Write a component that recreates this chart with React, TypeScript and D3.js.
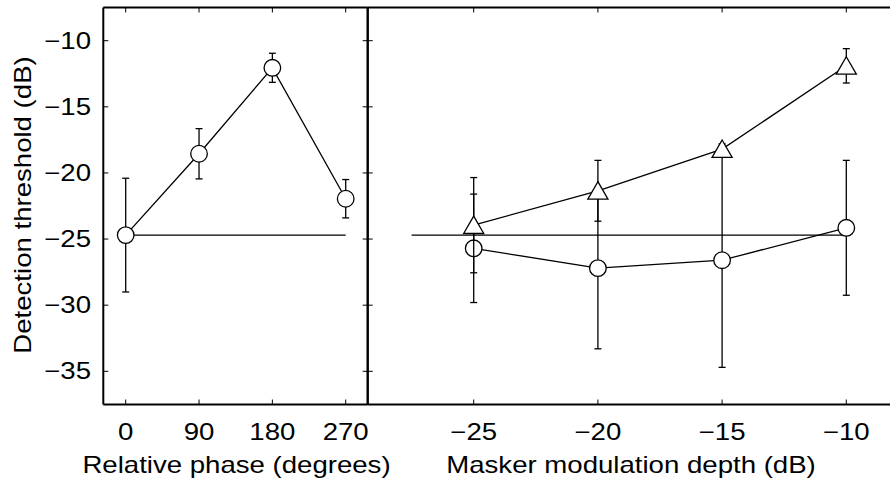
import React from "react";
import * as d3 from "d3";

const phases = [0, 90, 180, 270];
const phaseThreshold = [-24.7, -18.55, -12.05, -21.95];
const phaseError = [4.3, 1.9, 1.1, 1.45];

const depths = [-25, -20, -15, -10];
const triThreshold = [-23.95, -21.35, -18.2, -11.9];
const triError = [3.6, 2.3, 0.4, 1.3];
const circThreshold = [-25.7, -27.2, -26.6, -24.15];
const circError = [4.1, 6.1, 8.1, 5.1];

const refLevel = -24.7;
const yTicks = [-10, -15, -20, -25, -30, -35];
const phaseTicks = [0, 90, 180, 270];
const depthTicks = [-25, -20, -15, -10];

const W = 890;
const H = 482;
const FONT = "'Liberation Sans', Arial, Helvetica, sans-serif";
const FS = 23;
const SX = 1.2;

const top = 7.5;
const bottom = 404.5;
const leftL = 103.3;
const leftR = 367.7;
const rightR = 960;

const y = d3.scaleLinear().domain([-10, -35]).range([40.7, 371.3]);
const xL = d3.scaleLinear().domain([0, 270]).range([125.7, 345.7]);
const xR = d3.scaleLinear().domain([-25, -10]).range([473.7, 846.3]);

const tri = d3.symbol().type(d3.symbolTriangle).size(175);

function ErrBars({ xs, ys, es, sx }: any) {
  return (
    <g stroke="#000" strokeWidth={1.3}>
      {xs.map((xv: number, i: number) => {
        const cx = sx(xv);
        const y1 = y(ys[i] + es[i]);
        const y2 = y(ys[i] - es[i]);
        return (
          <g key={i}>
            <line x1={cx} x2={cx} y1={y1} y2={y2} />
            <line x1={cx - 3.5} x2={cx + 3.5} y1={y1} y2={y1} />
            <line x1={cx - 3.5} x2={cx + 3.5} y1={y2} y2={y2} />
          </g>
        );
      })}
    </g>
  );
}

function Series({ xs, ys, es, sx, marker }: any) {
  const line = d3
    .line<number>()
    .x((_, i) => sx(xs[i]))
    .y((v) => y(v));
  return (
    <g>
      <ErrBars xs={xs} ys={ys} es={es} sx={sx} />
      <path d={line(ys) || ""} fill="none" stroke="#000" strokeWidth={1.3} />
      {xs.map((xv: number, i: number) =>
        marker === "circle" ? (
          <circle key={i} cx={sx(xv)} cy={y(ys[i])} r={8.3} fill="#fff" stroke="#000" strokeWidth={1.3} />
        ) : (
          <path
            key={i}
            d={tri() || ""}
            transform={`translate(${sx(xv)},${y(ys[i]) + 2.5})`}
            fill="#fff"
            stroke="#000"
            strokeWidth={1.3}
          />
        )
      )}
    </g>
  );
}

function Frame({ x0, x1, xticks, sx, showRight }: any) {
  const tl = 5;
  return (
    <g stroke="#000" fill="none">
      {xticks.map((t: number) => (
        <g key={t} strokeWidth={1}>
          <line x1={sx(t)} x2={sx(t)} y1={top} y2={top + tl} />
          <line x1={sx(t)} x2={sx(t)} y1={bottom} y2={bottom - tl} />
        </g>
      ))}
      {yTicks.map((t) => (
        <g key={t} strokeWidth={1}>
          <line x1={x0} x2={x0 + tl} y1={y(t)} y2={y(t)} />
          {showRight && <line x1={x1} x2={x1 - tl} y1={y(t)} y2={y(t)} />}
        </g>
      ))}
      <line x1={x0} x2={x1} y1={top} y2={top} strokeWidth={2} />
      <line x1={x0} x2={x1} y1={bottom} y2={bottom} strokeWidth={2} />
      <line x1={x0} x2={x0} y1={top} y2={bottom} strokeWidth={2} />
      {showRight && <line x1={x1} x2={x1} y1={top} y2={bottom} strokeWidth={2} />}
    </g>
  );
}

const fmt = (v: number) => (v < 0 ? "\u2212" + Math.abs(v) : String(v));

function T({ x, y: yy, anchor, rot, children }: any) {
  return (
    <text
      transform={`translate(${x},${yy})${rot ? " rotate(-90)" : ""} scale(${SX},1)`}
      textAnchor={anchor}
    >
      {children}
    </text>
  );
}

export default function App() {
  return (
    <svg
      width={W}
      height={H}
      style={{ position: "absolute", left: 0, top: 0, background: "#fff" }}
      fontFamily={FONT}
    >
      <rect width={W} height={H} fill="#fff" />
      {/* left panel */}
      <line x1={xL(0)} x2={xL(270)} y1={y(refLevel)} y2={y(refLevel)} stroke="#000" strokeWidth={1.3} />
      <Series xs={phases} ys={phaseThreshold} es={phaseError} sx={xL} marker="circle" />
      <Frame x0={leftL} x1={leftR} xticks={phaseTicks} sx={xL} showRight />
      {/* right panel */}
      <line x1={xR(-27.5)} x2={xR(-10)} y1={y(refLevel)} y2={y(refLevel)} stroke="#000" strokeWidth={1.3} />
      <Series xs={depths} ys={circThreshold} es={circError} sx={xR} marker="circle" />
      <Series xs={depths} ys={triThreshold} es={triError} sx={xR} marker="triangle" />
      <Frame x0={leftR} x1={rightR} xticks={depthTicks} sx={xR} showRight={false} />
      {/* labels */}
      <g fontSize={FS} fill="#000">
        {yTicks.map((t) => (
          <T key={t} x={91} y={y(t) + 8} anchor="end">
            {fmt(t)}
          </T>
        ))}
        {phaseTicks.map((t) => (
          <T key={t} x={xL(t)} y={440} anchor="middle">
            {fmt(t)}
          </T>
        ))}
        {depthTicks.map((t) => (
          <T key={t} x={xR(t)} y={440} anchor="middle">
            {fmt(t)}
          </T>
        ))}
        <T x={236.5} y={473} anchor="middle">
          Relative phase (degrees)
        </T>
        <T x={631} y={473} anchor="middle">
          Masker modulation depth (dB)
        </T>
        <T x={30.5} y={205} anchor="middle" rot>
          Detection threshold (dB)
        </T>
      </g>
    </svg>
  );
}
